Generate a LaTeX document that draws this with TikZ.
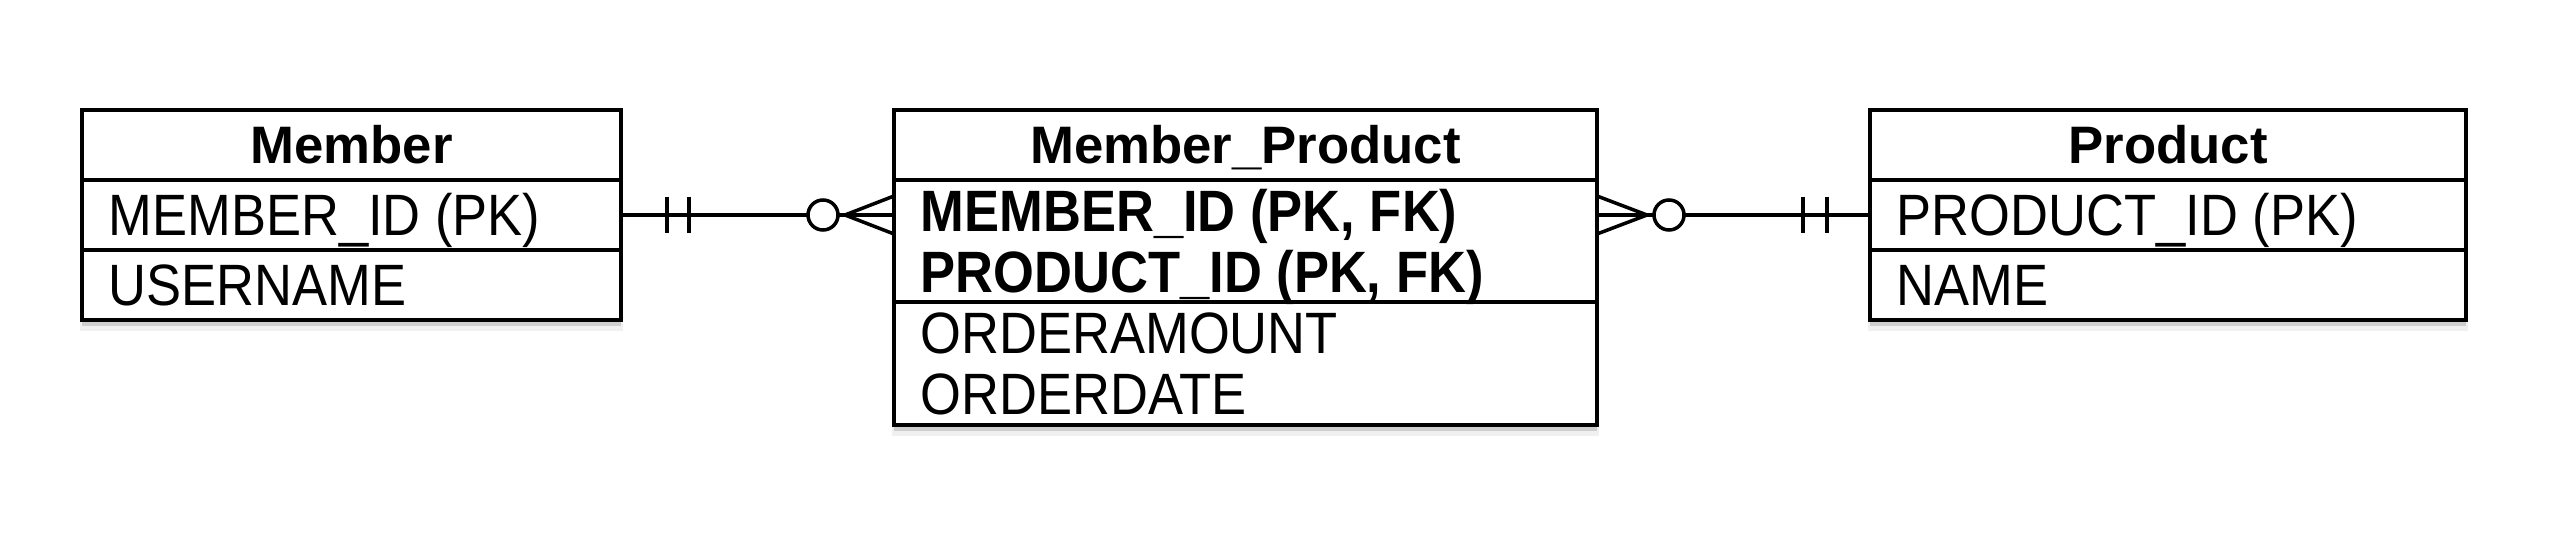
\documentclass[tikz,border=0pt]{standalone}
\usepackage{fontspec}
\setmainfont{Liberation Sans}
\newfontfamily\erdfont{Liberation Sans}[FakeStretch=0.9]
\usetikzlibrary{positioning,shadows}

\begin{document}
\begin{tikzpicture}
	\tikzstyle{box}=[draw=black, line width=1.15pt, fill=white, inner sep=0pt, outer sep=0pt, minimum height=0.7cm, drop shadow={shadow xshift=0cm, shadow yshift=-0.11cm, shadow scale=1.006, opacity=0.12}, drop shadow={shadow xshift=0cm, shadow yshift=-0.06cm, opacity=0.3}]
	\tikzstyle{hdr}=[box, font=\fontsize{15}{18}\selectfont\bfseries, text height=0.38cm, text depth=0cm]
	\tikzstyle{attr}=[inner sep=0pt, anchor=west, font=\erdfont\fontsize{16.6}{20}\selectfont, text height=0.42cm, text depth=0cm]
	\tikzstyle{key}=[attr, font=\erdfont\fontsize{16.6}{20}\selectfont\bfseries]
	\tikzstyle{rel}=[draw, line width=1pt]
	\useasboundingbox (0,0) rectangle (25.64,-5.52);
	% Member
	\node [hdr, minimum width=5.39cm] (member) at (3.515,-1.45) {Member};
	\node [box, minimum width=5.39cm, below=0pt of member] (memberPk) {};
	\node [box, minimum width=5.39cm, below=0pt of memberPk] (memberAt) {};
	\node [attr, right=0.26cm of memberPk.west] (memberId) {MEMBER\_ID (PK)};
	\node [attr, right=0.26cm of memberAt.west] (userName) {USERNAME};
	% Member_Product
	\node [hdr, minimum width=7.03cm] (memberProduct) at (12.455,-1.45) {Member\_Product};
	\node [box, minimum width=7.03cm, minimum height=1.22cm, below=0pt of memberProduct] (mpKeys) {};
	\node [box, minimum width=7.03cm, minimum height=1.23cm, below=0pt of mpKeys] (mpAt) {};
	\node [key] (mpMemberId) at ([xshift=0.26cm, yshift=0.305cm]mpKeys.west) {MEMBER\_ID (PK, FK)};
	\node [key] (mpProductId) at ([xshift=0.26cm, yshift=-0.305cm]mpKeys.west) {PRODUCT\_ID (PK, FK)};
	\node [attr] (orderAmount) at ([xshift=0.26cm, yshift=0.305cm]mpAt.west) {ORDERAMOUNT};
	\node [attr] (orderDate) at ([xshift=0.26cm, yshift=-0.305cm]mpAt.west) {ORDERDATE};
	% Product
	\node [hdr, minimum width=5.96cm] (product) at (21.68,-1.45) {Product};
	\node [box, minimum width=5.96cm, below=0pt of product] (productPk) {};
	\node [box, minimum width=5.96cm, below=0pt of productPk] (productAt) {};
	\node [attr, right=0.26cm of productPk.west] (productId) {PRODUCT\_ID (PK)};
	\node [attr, right=0.26cm of productAt.west] (productName) {NAME};
	% relations
	\coordinate (mpL) at (memberPk.east -| mpKeys.west);
	\coordinate (mpR) at (productPk.west -| mpKeys.east);
	\path[rel] (memberPk.east) -- (mpL);
	\path[rel] ([xshift=0.46cm]memberPk.east) ++(0,0.18) -- ++(0,-0.36);
	\path[rel] ([xshift=0.68cm]memberPk.east) ++(0,0.18) -- ++(0,-0.36);
	\path[rel] ([xshift=-0.49cm]mpL) -- ++(0.49,0.19) ([xshift=-0.49cm]mpL) -- ++(0.49,-0.19);
	\path[rel, fill=white] ([xshift=-0.71cm]mpL) circle (0.15cm);
	\path[rel] (mpR) -- (productPk.west);
	\path[rel] ([xshift=-0.67cm]productPk.west) ++(0,0.18) -- ++(0,-0.36);
	\path[rel] ([xshift=-0.43cm]productPk.west) ++(0,0.18) -- ++(0,-0.36);
	\path[rel] ([xshift=0.50cm]mpR) -- ++(-0.50,0.19) ([xshift=0.50cm]mpR) -- ++(-0.50,-0.19);
	\path[rel, fill=white] ([xshift=0.72cm]mpR) circle (0.15cm);
\end{tikzpicture}
\end{document}
